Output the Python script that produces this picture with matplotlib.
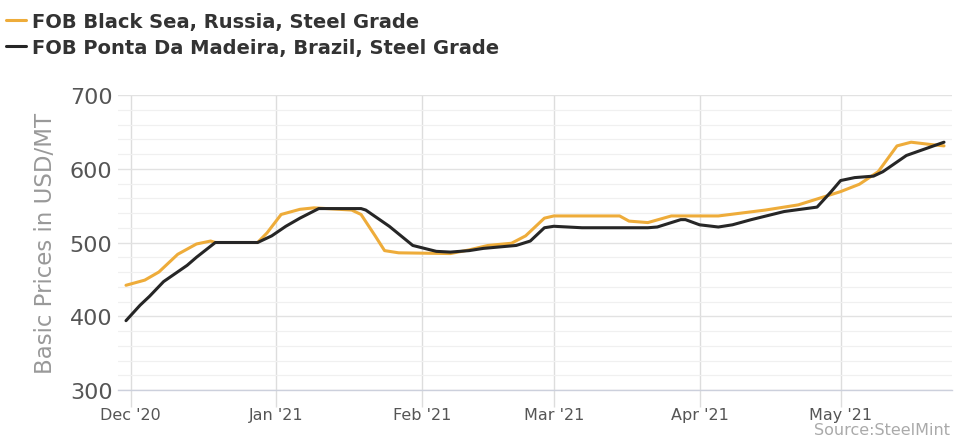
import matplotlib
matplotlib.use("Agg")
import matplotlib.pyplot as plt
import matplotlib.dates as mdates
from matplotlib.ticker import MultipleLocator, FixedLocator
import numpy as np
import datetime as dt

# ---- data ----
russia_dates = ["2020-11-30", "2020-12-04", "2020-12-07", "2020-12-11", "2020-12-15", "2020-12-18",
                "2020-12-19", "2020-12-28", "2020-12-30", "2021-01-02", "2021-01-06", "2021-01-09",
                "2021-01-17", "2021-01-19", "2021-01-22", "2021-01-24", "2021-01-27", "2021-02-07",
                "2021-02-11", "2021-02-15", "2021-02-20", "2021-02-23", "2021-02-27", "2021-03-01",
                "2021-03-15", "2021-03-17", "2021-03-21", "2021-03-26", "2021-04-05", "2021-04-15",
                "2021-04-22", "2021-04-26", "2021-05-01", "2021-05-05", "2021-05-09", "2021-05-13",
                "2021-05-16", "2021-05-20", "2021-05-23"]
russia_values = [442, 449, 460, 484, 498, 502,
                 500, 500, 513, 538, 545, 547,
                 544, 538, 509, 489, 486, 485,
                 490, 496, 499, 509, 533, 536,
                 536, 529, 527, 536, 536, 544,
                 551, 559, 569, 579, 596, 631,
                 636, 633, 631]

brazil_dates = ["2020-11-30", "2020-12-03", "2020-12-05", "2020-12-08", "2020-12-13", "2020-12-15",
                "2020-12-19", "2020-12-28", "2020-12-31", "2021-01-03", "2021-01-06", "2021-01-10",
                "2021-01-19", "2021-01-20", "2021-01-25", "2021-01-30", "2021-02-04", "2021-02-07",
                "2021-02-11", "2021-02-14", "2021-02-21", "2021-02-24", "2021-02-27", "2021-03-01",
                "2021-03-07", "2021-03-21", "2021-03-23", "2021-03-28", "2021-03-29", "2021-04-01",
                "2021-04-05", "2021-04-08", "2021-04-12", "2021-04-19", "2021-04-26", "2021-04-29",
                "2021-05-01", "2021-05-04", "2021-05-08", "2021-05-10", "2021-05-15", "2021-05-19",
                "2021-05-23"]
brazil_values = [394, 415, 427, 447, 469, 480,
                 500, 500, 509, 522, 533, 546,
                 546, 544, 522, 496, 488, 487,
                 489, 492, 496, 502, 520, 522,
                 520, 520, 521, 531, 531, 524,
                 521, 524, 531, 542, 548, 569,
                 584, 588, 590, 596, 618, 627,
                 636]

series_names = ["FOB Black Sea, Russia, Steel Grade", "FOB Ponta Da Madeira, Brazil, Steel Grade"]
month_ticks = ["2020-12-01", "2021-01-01", "2021-02-01", "2021-03-01", "2021-04-01", "2021-05-01"]
month_labels = ["Dec '20", "Jan '21", "Feb '21", "Mar '21", "Apr '21", "May '21"]
y_label = "Basic Prices in USD/MT"
source_text = "Source:SteelMint"

ORANGE = "#EEAC3A"
DARK = "#262626"

def to_num(lst):
    return mdates.date2num([dt.datetime.strptime(s, "%Y-%m-%d") for s in lst])

plt.rcParams['font.family'] = ['DejaVu Sans']

fig = plt.figure(figsize=(9.55, 4.39), dpi=100)
ax = fig.add_axes([118/955, 1 - 391/439, (952-118)/955, (391-96)/439])

xr = to_num(russia_dates)
xb = to_num(brazil_dates)
l1, = ax.plot(xr, russia_values, color=ORANGE, lw=2.2, solid_capstyle='round',
              solid_joinstyle='round', zorder=3)
l2, = ax.plot(xb, brazil_values, color=DARK, lw=2.2, solid_capstyle='round',
              solid_joinstyle='round', zorder=4)

x0 = mdates.date2num(dt.datetime(2020, 12, 1))
ax.set_xlim(x0 - 2.7, x0 + 174.7)
ax.set_ylim(300, 700)

ax.yaxis.set_major_locator(MultipleLocator(100))
ax.yaxis.set_minor_locator(MultipleLocator(20))
ax.xaxis.set_major_locator(FixedLocator(to_num(month_ticks)))
ax.set_xticklabels(month_labels)

ax.grid(which='major', axis='y', color='#e2e2e2', lw=1.0)
ax.grid(which='minor', axis='y', color='#f0f0f0', lw=0.9)
ax.grid(which='major', axis='x', color='#dddddd', lw=1.0)
ax.set_axisbelow(True)

for s in ['top', 'right', 'left']:
    ax.spines[s].set_visible(False)
ax.spines['bottom'].set_color('#ccd0dc')
ax.spines['bottom'].set_linewidth(1.0)

ax.tick_params(axis='x', which='major', length=12, color='#dddddd', width=1.0,
               labelsize=11.5, labelcolor='#555555', pad=0)
ax.tick_params(axis='y', which='both', length=0, labelsize=16, labelcolor='#555555', pad=4)

ax.set_ylabel(y_label, fontsize=16.5, color='#999999', labelpad=9)

fig.legend([l1, l2], series_names, loc='upper left', bbox_to_anchor=(0.0, 1 - 7/439),
           frameon=False, prop={'weight': 'bold', 'size': 14}, labelcolor='#333333',
           handlelength=1.05, handletextpad=0.3, labelspacing=0.38, borderpad=0.0,
           borderaxespad=0.3)

fig.text(950/955, 1 - 438/439, source_text, ha='right', va='bottom', fontsize=11.5, color='#aaaaaa')

fig.savefig("out.png", dpi=100)
